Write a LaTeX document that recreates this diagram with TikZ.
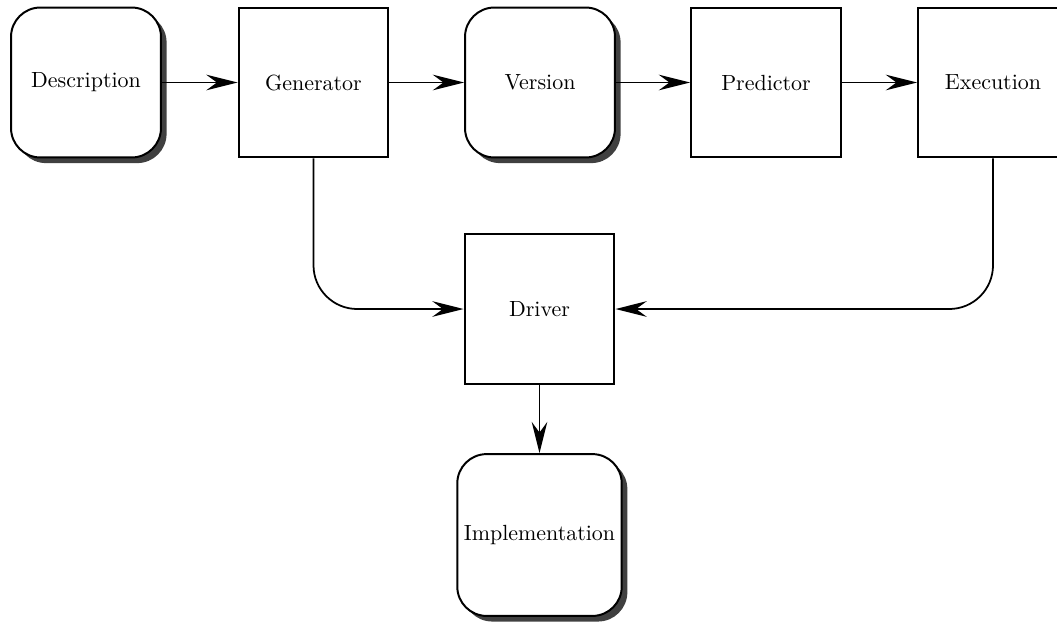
\documentclass[tikz,border=0pt]{standalone}
\usetikzlibrary{arrows.meta,shadows}
\begin{document}
\begin{tikzpicture}[x=0.016cm,y=-0.016cm,
  sq/.style={draw,line width=0.9pt,fill=white,minimum size=2.4cm,inner sep=3pt},
  rnd/.style={sq,rounded corners=0.47cm,
    drop shadow={fill=black!75,opacity=1,shadow xshift=0.09cm,shadow yshift=-0.09cm}},
  conn/.style={line width=0.8pt,-{Stealth[length=0.5cm,width=0.25cm,inset=0.17cm]}},
  elbow/.style={conn,rounded corners=0.7cm}]
\useasboundingbox (0,0) rectangle (1057,624);
\node[rnd] (desc) at (86,82.5) {Description};
\node[sq] (gen) at (313.5,82.5) {Generator};
\node[rnd] (ver) at (540,82.5) {Version};
\node[sq] (pred) at (766,82.5) {Predictor};
\node[sq] (exe) at (993,82.5) {Execution};
\node[sq] (drv) at (539.5,309) {Driver};
\node[rnd,minimum size=2.59cm] (impl) at (539.5,535) {Implementation};
\draw[conn] (desc) -- (gen);
\draw[conn] (gen) -- (ver);
\draw[conn] (ver) -- (pred);
\draw[conn] (pred) -- (exe);
\draw[elbow] (gen.south) |- (drv.west);
\draw[elbow] (exe.south) |- (drv.east);
\draw[conn] (drv) -- (impl);
\end{tikzpicture}
\end{document}
